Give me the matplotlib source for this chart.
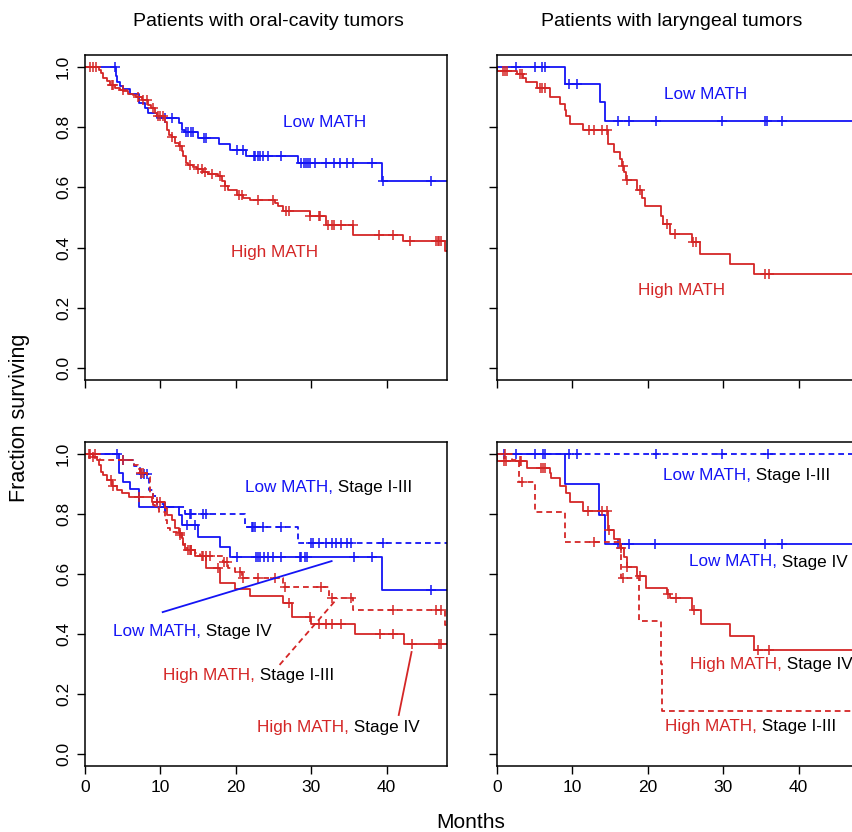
import numpy as np
import matplotlib
matplotlib.use("Agg")
import matplotlib.pyplot as plt

plt.rcParams['font.family'] = ['Liberation Sans', 'DejaVu Sans']

BLUE = '#1414F5'
RED = '#D42626'

# ---------------- data (months, fraction surviving) ----------------
# Top-left: oral cavity
oral_low_t = [0, 4.1, 4.3, 4.7, 5.0, 6.0, 7.1, 7.9, 8.4, 9.5, 12.5, 12.9, 13.2, 15.0, 17.8, 19.2, 21.3, 28.3, 39.4]
oral_low_s = [1.0, 0.969, 0.95, 0.936, 0.927, 0.91, 0.88, 0.864, 0.847, 0.831, 0.814, 0.792, 0.784, 0.764, 0.744, 0.725, 0.705, 0.681, 0.622]
oral_low_c = [4.0, 10.6, 11.5, 13.4, 13.7, 14.0, 14.3, 15.8, 16.0, 20.1, 21.0, 22.4, 22.6, 22.9, 23.2, 23.6, 24.3,
              26.0, 28.6, 29.0, 29.3, 29.6, 29.9, 30.5, 31.9, 33.0, 33.8, 34.7, 35.5, 38.1, 39.5, 45.9]

oral_high_t = [0, 1.8, 2.1, 2.4, 2.9, 3.3, 4.0, 4.6, 5.1, 5.7, 6.4, 6.8, 7.5, 8.4, 8.8, 9.3, 9.5, 10.6, 10.9, 11.2,
               11.5, 11.9, 12.4, 12.8, 13.0, 13.4, 13.7, 14.3, 14.8, 15.7, 16.3, 17.7, 18.1, 18.5, 19.0, 20.1,
               21.0, 21.9, 25.2, 25.6, 26.3, 29.8, 32.0, 35.6, 42.2, 47.8]
oral_high_s = [1.0, 0.991, 0.980, 0.963, 0.952, 0.941, 0.930, 0.925, 0.919, 0.910, 0.906, 0.899, 0.891, 0.875,
               0.864, 0.847, 0.836, 0.819, 0.792, 0.775, 0.766, 0.747, 0.736, 0.720, 0.703, 0.681, 0.676, 0.667,
               0.661, 0.651, 0.645, 0.637, 0.620, 0.604, 0.592, 0.576, 0.565, 0.557, 0.548, 0.537, 0.520, 0.504,
               0.476, 0.441, 0.421, 0.390]
oral_high_c = [0.66, 1.1, 1.46, 3.53, 3.75, 5.08, 7.06, 7.73, 8.17, 9.05, 9.62, 9.93, 10.4, 11.5, 12.6, 13.9, 15.0,
               15.5, 15.9, 16.8, 17.9, 18.5, 20.4, 20.8, 23.0, 24.9, 26.7, 27.1, 29.9, 31.0, 31.2, 32.2, 32.7,
               33.0, 34.0, 35.5, 39.0, 40.8, 43.1, 46.6, 46.8, 47.0, 47.2]

# Top-right: larynx
lar_low_t = [0, 9.0, 13.6, 14.3]
lar_low_s = [1.0, 0.945, 0.883, 0.820]
lar_low_c = [2.5, 5.0, 6.0, 6.3, 9.5, 10.6, 16.0, 17.5, 21.1, 29.8, 35.5, 35.8, 37.8]

lar_high_t = [0, 0.05, 2.6, 3.5, 3.9, 5.3, 7.0, 8.3, 9.0, 9.2, 9.7, 11.4, 14.7, 15.5, 16.3, 16.6, 16.9, 17.1,
              18.5, 19.2, 19.6, 21.8, 22.0, 22.9, 25.8, 26.9, 30.9, 34.1]
lar_high_s = [1.0, 0.988, 0.977, 0.963, 0.950, 0.930, 0.899, 0.877, 0.858, 0.836, 0.810, 0.792, 0.744, 0.717,
              0.693, 0.671, 0.650, 0.623, 0.592, 0.565, 0.537, 0.504, 0.478, 0.446, 0.418, 0.380, 0.346, 0.312]
lar_high_c = [0.84, 1.06, 1.28, 3.0, 3.3, 5.7, 6.0, 6.4, 12.2, 12.8, 13.9, 14.6, 16.7, 17.2, 18.9, 22.5, 23.6,
              26.0, 26.4, 35.5, 36.1]

# Bottom-left: oral cavity by stage
oral_lowE_t = [0, 4.5, 6.5, 7.3, 8.5, 9.0, 9.5, 10.5, 13.2, 21.2, 28.3]
oral_lowE_s = [1.0, 0.98, 0.96, 0.935, 0.88, 0.86, 0.835, 0.825, 0.80, 0.758, 0.703]
oral_lowE_c = [5.1, 7.4, 7.8, 8.2, 10.6, 13.9, 14.1, 15.7, 16.0, 22.1, 22.3, 22.6, 23.6, 26.0, 30.0, 30.2,
               31.0, 31.9, 32.7, 33.3, 34.0, 34.7, 35.3, 39.5]

oral_lowL_t = [0, 4.55, 5.0, 6.0, 7.1, 12.5, 12.8, 15.0, 17.9, 19.2, 39.4]
oral_lowL_s = [1.0, 0.936, 0.908, 0.882, 0.825, 0.797, 0.764, 0.725, 0.691, 0.656, 0.547]
oral_lowL_c = [4.3, 10.6, 13.5, 14.6, 20.1, 22.7, 22.9, 23.2, 23.8, 24.3, 24.9, 26.0, 28.5, 28.7, 29.2, 29.4,
               35.7, 38.1, 45.9]

oral_highE_t = [0, 2.0, 6.5, 7.0, 7.3, 8.2, 8.6, 9.0, 9.3, 9.8, 10.6, 10.9, 11.3, 12.2, 12.8, 13.0, 13.5, 14.6,
                15.2, 18.3, 19.0, 19.9, 20.8, 26.3, 32.4, 35.5, 47.8]
oral_highE_s = [1.0, 0.98, 0.963, 0.95, 0.936, 0.924, 0.869, 0.830, 0.819, 0.808, 0.78, 0.752, 0.741, 0.73,
                0.714, 0.70, 0.680, 0.669, 0.66, 0.641, 0.619, 0.608, 0.586, 0.556, 0.519, 0.48, 0.43]
oral_highE_c = [0.5, 1.3, 5.1, 7.4, 7.7, 12.6, 13.9, 14.1, 15.5, 16.0, 16.6, 18.4, 18.8, 20.5, 21.0, 23.0, 25.2,
                26.5, 31.3, 32.8, 35.3, 40.8, 46.6, 47.2]

oral_highL_t = [0, 1.1, 1.55, 1.9, 2.1, 2.43, 2.87, 3.53, 4.2, 4.86, 5.87, 8.83, 10.6, 10.9, 11.5, 11.9, 12.4,
                12.8, 13.0, 13.2, 14.6, 16.1, 17.9, 19.9, 21.85, 26.3, 27.4, 30.0, 35.8, 42.3]
oral_highL_s = [1.0, 0.991, 0.98, 0.963, 0.941, 0.930, 0.913, 0.893, 0.880, 0.869, 0.858, 0.841, 0.819, 0.797,
                0.780, 0.752, 0.736, 0.719, 0.697, 0.680, 0.660, 0.619, 0.569, 0.549, 0.527, 0.505, 0.458,
                0.434, 0.400, 0.366]
oral_highL_c = [0.66, 1.1, 3.5, 3.7, 7.1, 9.6, 10.0, 12.6, 13.7, 14.0, 15.7, 17.7, 27.1, 29.8, 31.0, 32.0, 32.8,
                34.0, 39.1, 40.8, 43.3, 47.0, 47.2]

# Bottom-right: larynx by stage
lar_lowE_t = [0]
lar_lowE_s = [1.0]
lar_lowE_c = [0.93, 6.05, 6.3, 9.5, 10.55, 21.1, 29.8, 35.9]

lar_lowL_t = [0, 9.0, 13.55, 14.3]
lar_lowL_s = [1.0, 0.90, 0.797, 0.70]
lar_lowL_c = [2.5, 5.0, 16.1, 17.5, 21.0, 35.5, 37.8]

lar_highE_t = [0, 2.0, 2.96, 5.1, 9.0, 16.5, 18.85, 21.7, 21.9]
lar_highE_s = [1.0, 0.98, 0.908, 0.808, 0.706, 0.588, 0.442, 0.30, 0.144]
lar_highE_c = [1.0, 3.3, 12.8, 16.7]

lar_highL_t = [0, 0.05, 4.0, 7.0, 7.15, 8.3, 9.1, 9.7, 11.4, 14.75, 15.5, 16.3, 16.9, 17.2, 18.5, 19.7, 22.6,
               22.9, 25.8, 27.0, 30.9, 34.1]
lar_highL_s = [1.0, 0.978, 0.952, 0.936, 0.921, 0.895, 0.869, 0.841, 0.810, 0.747, 0.717, 0.686, 0.658,
               0.623, 0.592, 0.553, 0.534, 0.519, 0.48, 0.433, 0.392, 0.347]
lar_highL_c = [0.93, 1.2, 3.0, 3.2, 5.8, 6.05, 6.4, 12.0, 13.9, 14.6, 14.9, 16.4, 17.2, 19.0, 22.7, 23.7, 26.1,
               34.6, 36.1]

# ---------------- text / layout ----------------
col_titles = ['Patients with oral-cavity tumors', 'Patients with laryngeal tumors']
y_ticks = [0.0, 0.2, 0.4, 0.6, 0.8, 1.0]
x_ticks = [0, 10, 20, 30, 40]
XMAX = 48

fig = plt.figure(figsize=(8.52, 8.32), dpi=100)
W, H = 852, 832


def axes_px(left, top, right, bottom):
    return fig.add_axes([left / W, 1 - bottom / H, (right - left) / W, (bottom - top) / H])


ax_tl = axes_px(85, 55, 447, 380)
ax_tr = axes_px(497, 55, 859, 380)
ax_bl = axes_px(85, 442, 447, 766)
ax_br = axes_px(497, 442, 859, 766)


def km(ax, t, s, c, color, ls='-', end=XMAX):
    t = list(t) + [end]
    s = list(s) + [s[-1]]
    line, = ax.step(t, s, where='post', color=color, lw=1.3, ls=ls)
    if ls != '-':
        line.set_dashes((3.2, 2.2))
    tt = np.asarray(t)
    ss = np.asarray(s)
    cy = [ss[np.searchsorted(tt, x, side='right') - 1] for x in c]
    ax.plot(c, cy, ls='none', marker='+', ms=7.5, mew=1.1, color=color)


for ax in (ax_tl, ax_tr, ax_bl, ax_br):
    ax.set_xlim(0, XMAX)
    ax.set_ylim(-0.04, 1.04)
    ax.set_xticks(x_ticks)
    ax.set_yticks(y_ticks)
    ax.tick_params(direction='out', length=6, width=1, labelsize=12.5, pad=4)
    for sp in ax.spines.values():
        sp.set_linewidth(1.1)

for ax in (ax_tl, ax_tr):
    ax.set_xticklabels([])
for ax in (ax_tr, ax_br):
    ax.set_yticklabels([])
for ax in (ax_tl, ax_bl):
    ax.set_yticklabels(['%.1f' % v for v in y_ticks], rotation=90, va='center')

km(ax_tl, oral_low_t, oral_low_s, oral_low_c, BLUE)
km(ax_tl, oral_high_t, oral_high_s, oral_high_c, RED)
ax_tl.text(31.8, 0.815, 'Low MATH', color=BLUE, fontsize=12.3, ha='center', va='center')
ax_tl.text(25.2, 0.385, 'High MATH', color=RED, fontsize=12.3, ha='center', va='center')

km(ax_tr, lar_low_t, lar_low_s, lar_low_c, BLUE)
km(ax_tr, lar_high_t, lar_high_s, lar_high_c, RED)
ax_tr.text(27.7, 0.91, 'Low MATH', color=BLUE, fontsize=12.3, ha='center', va='center')
ax_tr.text(24.5, 0.256, 'High MATH', color=RED, fontsize=12.3, ha='center', va='center')

km(ax_bl, oral_lowE_t, oral_lowE_s, oral_lowE_c, BLUE, ls='--')
km(ax_bl, oral_lowL_t, oral_lowL_s, oral_lowL_c, BLUE)
km(ax_bl, oral_highE_t, oral_highE_s, oral_highE_c, RED, ls='--')
km(ax_bl, oral_highL_t, oral_highL_s, oral_highL_c, RED)

km(ax_br, lar_lowE_t, lar_lowE_s, lar_lowE_c, BLUE, ls='--')
km(ax_br, lar_lowL_t, lar_lowL_s, lar_lowL_c, BLUE)
km(ax_br, lar_highE_t, lar_highE_s, lar_highE_c, RED, ls='--')
km(ax_br, lar_highL_t, lar_highL_s, lar_highL_c, RED)


def two_col(ax, x, y, first, second, color):
    t1 = ax.text(x, y, first, color=color, fontsize=12.3, ha='left', va='center')
    ax.annotate(second, xy=(1, 0), xycoords=t1, va='bottom', ha='left', color='black', fontsize=12.3,
                annotation_clip=False)


# labels bottom-left
two_col(ax_bl, 21.2, 0.887, 'Low MATH,', ' Stage I-III', BLUE)
two_col(ax_bl, 3.7, 0.407, 'Low MATH,', ' Stage IV', BLUE)
two_col(ax_bl, 10.3, 0.263, 'High MATH,', ' Stage I-III', RED)
two_col(ax_bl, 22.8, 0.087, 'High MATH,', ' Stage IV', RED)

# leader lines bottom-left
lead_low_iv = ([10.3, 32.7], [0.473, 0.643])
lead_high_e = ([25.8, 33.5], [0.297, 0.52])
lead_high_iv = ([41.6, 43.3], [0.13, 0.34])
ax_bl.plot(*lead_low_iv, color=BLUE, lw=1.3)
l2, = ax_bl.plot(*lead_high_e, color=RED, lw=1.3, ls='--')
l2.set_dashes((3.2, 2.2))
ax_bl.plot(*lead_high_iv, color=RED, lw=1.3)

# labels bottom-right
two_col(ax_br, 22.0, 0.927, 'Low MATH,', ' Stage I-III', BLUE)
two_col(ax_br, 25.4, 0.64, 'Low MATH,', ' Stage IV', BLUE)
two_col(ax_br, 25.6, 0.297, 'High MATH,', ' Stage IV', RED)
two_col(ax_br, 22.3, 0.093, 'High MATH,', ' Stage I-III', RED)

# titles & axis labels
fig.text(268 / W, 1 - 22 / H, col_titles[0], ha='center', va='center', fontsize=14)
fig.text(672 / W, 1 - 22 / H, col_titles[1], ha='center', va='center', fontsize=14)
fig.text(20 / W, 1 - 418 / H, 'Fraction surviving', rotation=90, ha='center', va='center', fontsize=15.5)
fig.text(471 / W, 1 - 822 / H, 'Months', ha='center', va='center', fontsize=15)

fig.savefig('out.png', dpi=100)
